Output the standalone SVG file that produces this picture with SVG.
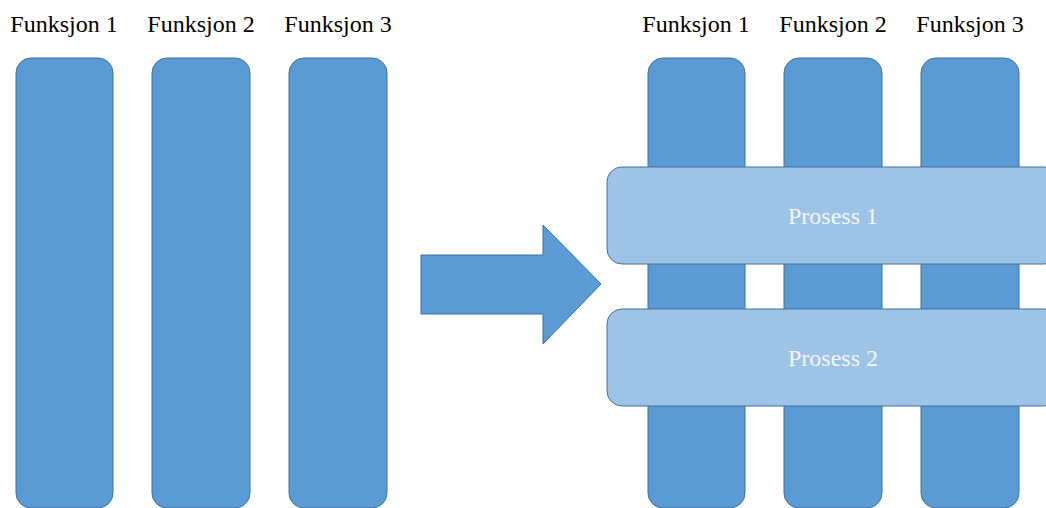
<svg xmlns="http://www.w3.org/2000/svg" width="1046" height="508" viewBox="0 0 1046 508">
<style>
.col{fill:#5B9BD5;stroke:#41719C;stroke-width:1}
.proc{fill:#9DC3E6;stroke:#41719C;stroke-width:1}
.lbl{font-family:'Liberation Serif','Times New Roman',Times,serif;font-size:24px;fill:#000;text-anchor:middle}
.plbl{font-family:'Liberation Serif','Times New Roman',Times,serif;font-size:24px;fill:#F4F8FC;text-anchor:middle}
</style>
<rect width="1046" height="508" fill="#fff"/>
<g id="left-f1"><rect class="col" x="16" y="58" width="97" height="450" rx="15"/><text class="lbl" x="64" y="32" font-family="Liberation Serif">Funksjon 1</text></g>
<g id="left-f2"><rect class="col" x="152" y="58" width="98" height="450" rx="15"/><text class="lbl" x="201" y="32" font-family="Liberation Serif">Funksjon 2</text></g>
<g id="left-f3"><rect class="col" x="289" y="58" width="98" height="450" rx="15"/><text class="lbl" x="338" y="32" font-family="Liberation Serif">Funksjon 3</text></g>
<g id="connectors"><path d="M421 255 H543 V225 L601 284 L543 344 V314 H421 Z" fill="#5B9BD5" stroke="#41719C" stroke-width="1"/></g>
<g id="right-f1"><rect class="col" x="648" y="58" width="97" height="450" rx="15"/><text class="lbl" x="696" y="32" font-family="Liberation Serif">Funksjon 1</text></g>
<g id="right-f2"><rect class="col" x="784" y="58" width="98" height="450" rx="15"/><text class="lbl" x="833" y="32" font-family="Liberation Serif">Funksjon 2</text></g>
<g id="right-f3"><rect class="col" x="921" y="58" width="98" height="450" rx="15"/><text class="lbl" x="970" y="32" font-family="Liberation Serif">Funksjon 3</text></g>
<g id="prosess1"><rect class="proc" x="607" y="167" width="452" height="97" rx="15"/><text class="plbl" x="833" y="224" font-family="Liberation Serif">Prosess 1</text></g>
<g id="prosess2"><rect class="proc" x="607" y="309" width="452" height="97" rx="15"/><text class="plbl" x="833" y="366" font-family="Liberation Serif">Prosess 2</text></g>
</svg>
